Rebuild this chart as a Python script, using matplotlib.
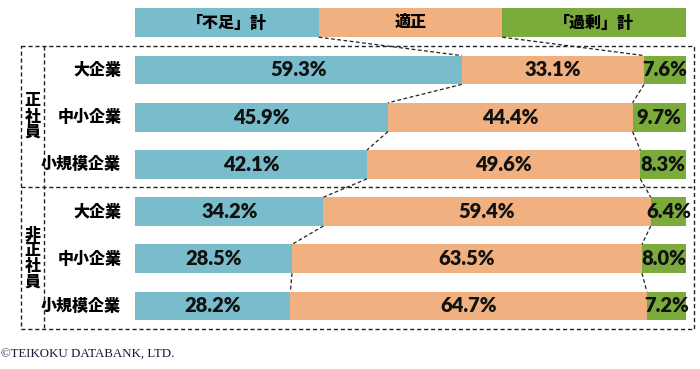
import matplotlib
matplotlib.use("Agg")
import matplotlib.pyplot as plt
import numpy as np

# ---- data ----
categories = ['大企業', '中小企業', '小規模企業', '大企業', '中小企業', '小規模企業']
shortage = [59.3, 45.9, 42.1, 34.2, 28.5, 28.2]
adequate = [33.1, 44.4, 49.6, 59.4, 63.5, 64.7]
surplus = [7.6, 9.7, 8.3, 6.4, 8.0, 7.2]
groups = ['正社員', '非正社員']
header = ['「不足」計', '適正', '「過剰」計']
credit = '©TEIKOKU DATABANK, LTD.'

BLUE = '#79BCCB'
ORANGE = '#F0B07F'
GREEN = '#7BAB3B'
JP = ['Noto Sans CJK JP', 'DejaVu Sans']
NUM = ['Lato', 'DejaVu Sans']

W, H = 700, 369
fig = plt.figure(figsize=(W / 100, H / 100), dpi=100)

# overlay axes in pixel coordinates for frame decorations
ov = fig.add_axes([0, 0, 1, 1], zorder=0)
ov.set_xlim(0, W)
ov.set_ylim(H, 0)
ov.axis('off')
ov.patch.set_alpha(0)

# main axes: x in percent, y in row units
x0, x1 = 135, 686
row0, step = 70, 47.2
ax = fig.add_axes([x0 / W, 0, (x1 - x0) / W, 1], zorder=2)
ax.set_xlim(0, 100)
ax.set_ylim((H - row0) / step, -row0 / step)
ax.axis('off')
ax.patch.set_alpha(0)

n = len(categories)
y = np.arange(n)
h = 0.61
s = np.array(shortage)
a = np.array(adequate)
g = np.array(surplus)

ax.barh(y, s, height=h, color=BLUE, edgecolor='none')
ax.barh(y, a, left=s, height=h, color=ORANGE, edgecolor='none')
ax.barh(y, g, left=s + a, height=h, color=GREEN, edgecolor='none')

# header bar
third = 100 / 3
for i, (lab, col) in enumerate(zip(header, [BLUE, ORANGE, GREEN])):
    ax.barh(-1, third, left=i * third, height=h, color=col, edgecolor='none')
    ax.text(i * third + third / 2, -1, lab, ha='center', va='center',
            fontsize=11.5, fontweight='heavy', family=JP)

# value labels
for i in range(n):
    segs = [(0, s[i]), (s[i], a[i]), (s[i] + a[i], g[i])]
    for left, w in segs:
        ax.text(left + w / 2, y[i], f'{w:.1f}%', ha='center', va='center',
                fontsize=14.5, fontweight='heavy', family=NUM, color='#111111')
    ax.text(-2.5, y[i], categories[i], ha='right', va='center', fontsize=11.5,
            fontweight='heavy', family=JP)

# dashed connectors between boundaries
ls = dict(color='#222222', lw=0.9, linestyle=(0, (3, 2)), clip_on=False)
b1 = s
b2 = s + a
ax.plot([third, b1[0]], [-1 + h / 2, 0 - h / 2], **ls)
ax.plot([2 * third, b2[0]], [-1 + h / 2, 0 - h / 2], **ls)
for i in range(n - 1):
    ax.plot([b1[i], b1[i + 1]], [i + h / 2, i + 1 - h / 2], **ls)
    ax.plot([b2[i], b2[i + 1]], [i + h / 2, i + 1 - h / 2], **ls)

# frame
fl = dict(color='#222222', lw=1.0, linestyle=(0, (3, 2)))
L, R, T, M, B, V = 21, 694, 46, 187, 329, 44
ov.plot([L, R, R, L, L], [T, T, B, B, T], **fl)
ov.plot([L, R], [M, M], **fl)
ov.plot([V, V], [T, B], **fl)

# group labels
ov.text((L + V) / 2, (T + M) / 2, '\n'.join(groups[0]), ha='center', va='center',
        fontsize=11.5, fontweight='heavy', family=JP, linespacing=1.02)
ov.text((L + V) / 2, (M + B) / 2, '\n'.join(groups[1]), ha='center', va='center',
        fontsize=11.5, fontweight='heavy', family=JP, linespacing=1.02)

ov.text(1, 354, credit, ha='left', va='center', fontsize=9.3,
        family=['Liberation Serif', 'DejaVu Serif'], color='#1a1a3a')

fig.savefig('out.png', dpi=100)
